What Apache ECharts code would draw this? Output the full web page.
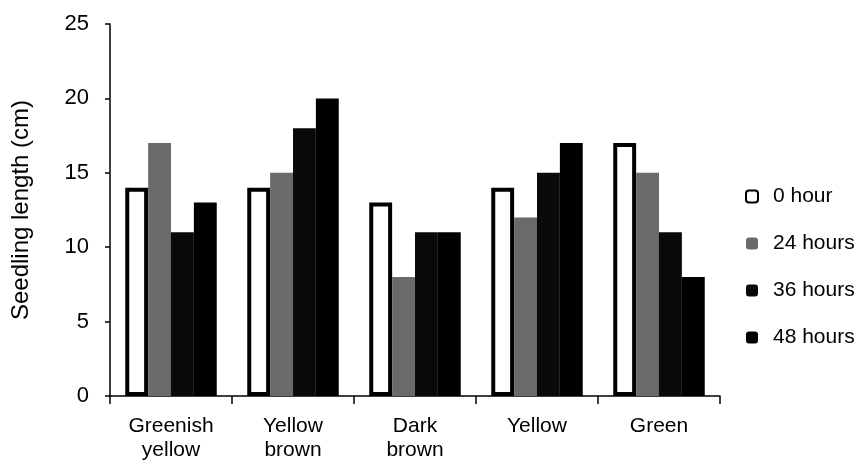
<!DOCTYPE html>
<html><head><meta charset="utf-8">
<script src="https://cdn.jsdelivr.net/npm/echarts@6/dist/echarts.min.js"></script>
<style>html,body{margin:0;padding:0;background:#fff}#c{width:855px;height:462px}</style>
</head><body><div id="c"></div>
<script>
const categories = ['Greenish\nyellow', 'Yellow\nbrown', 'Dark\nbrown', 'Yellow', 'Green'];
const seriesNames = ['0 hour', '24 hours', '36 hours', '48 hours'];
const hour0 = [14, 14, 13, 14, 17];
const hour24 = [17, 15, 8, 12, 15];
const hour36 = [11, 18, 11, 15, 11];
const hour48 = [13, 20, 11, 17, 8];
const yTicks = [0, 5, 10, 15, 20, 25];

const font = 'Liberation Sans, Arial, sans-serif';
const styles = [
  {color: '#ffffff', borderColor: '#000', borderWidth: 4},
  {color: '#6a6a6a'},
  {color: '#0a0a0a'},
  {color: '#000000'}
];
const values = [hour0, hour24, hour36, hour48];
const chart = echarts.init(document.getElementById('c'));
chart.setOption({
  animation: false,
  backgroundColor: '#fff',
  grid: {left: 110, right: 135, top: 24, bottom: 58},
  legend: {
    orient: 'vertical', left: 740, top: 181,
    itemWidth: 12, itemHeight: 12, itemGap: 26,
    textStyle: {fontFamily: font, fontSize: 21, lineHeight: 21, color: '#000', padding: [0, 0, 0, 10]},
    data: seriesNames
  },
  xAxis: {
    type: 'category', data: categories,
    axisLine: {lineStyle: {color: '#000', width: 1.5}},
    axisTick: {show: true, length: 8, lineStyle: {color: '#000', width: 1.5}},
    axisLabel: {fontFamily: font, fontSize: 21, color: '#000', margin: 18, lineHeight: 24, interval: 0}
  },
  yAxis: {
    type: 'value', min: yTicks[0], max: yTicks[yTicks.length - 1], interval: 5,
    name: 'Seedling length (cm)', nameLocation: 'middle', nameGap: 77,
    nameTextStyle: {fontFamily: font, fontSize: 24, color: '#000'},
    splitLine: {show: false},
    axisLine: {show: true, lineStyle: {color: '#000', width: 1.5}},
    axisTick: {show: true, length: 5, lineStyle: {color: '#000', width: 1.5}},
    axisLabel: {fontFamily: font, fontSize: 22, color: '#000', margin: 21}
  },
  series: seriesNames.map((n, i) => ({
    name: n, type: 'bar', data: values[i],
    barGap: '0%', barCategoryGap: '25%',
    itemStyle: styles[i]
  }))
});
</script></body></html>
